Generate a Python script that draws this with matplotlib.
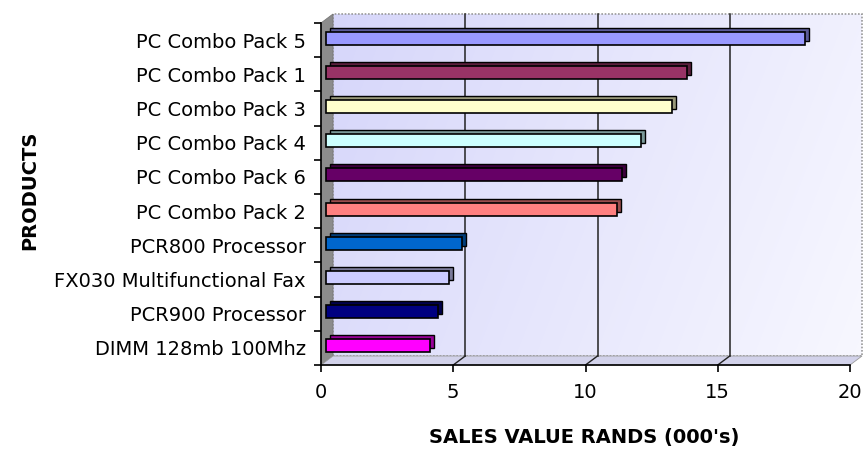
import matplotlib
matplotlib.use("Agg")
import matplotlib.pyplot as plt
import numpy as np
from matplotlib.transforms import ScaledTranslation
from matplotlib.patches import Polygon, Rectangle

products = ["PC Combo Pack 5", "PC Combo Pack 1", "PC Combo Pack 3", "PC Combo Pack 4",
            "PC Combo Pack 6", "PC Combo Pack 2", "PCR800 Processor",
            "FX030 Multifunctional Fax", "PCR900 Processor", "DIMM 128mb 100Mhz"]
sales = [18.1, 13.65, 13.1, 11.9, 11.2, 11.0, 5.15, 4.65, 4.25, 3.95]
colors = ["#9999FF", "#993366", "#FFFFCC", "#CCFFFF", "#660066", "#FF8080",
          "#0066CC", "#CCCCFF", "#000080", "#FF00FF"]
xticks = [0, 5, 10, 15, 20]

plt.rcParams['font.family'] = ['DejaVu Sans']

W, H, DPI = 864, 450, 100
fig = plt.figure(figsize=(W / DPI, H / DPI), dpi=DPI)
L, R, T, B = 321, 850, 23, 365
ax = fig.add_axes([L / W, 1 - B / H, (R - L) / W, (B - T) / H])
ax.set_facecolor('none')

n = len(products)
ypos = np.arange(n)[::-1]  # first product at top

# 3D wall offsets (pixels)
DX, DY = 12, 9
dxa, dya = DX / (R - L), DY / (B - T)
wall_off = ax.transAxes + ScaledTranslation(DX / DPI, DY / DPI, fig.dpi_scale_trans)

# back wall gradient (lavender at left -> near white at right)
gx = np.linspace(0, 1, 200)
gy = np.linspace(0, 1, 200)
GX, GY = np.meshgrid(gx, gy)
t = np.clip(0.8 * GX + 0.2 * GY, 0, 1)  # row 0 is top
c0 = np.array([0.84, 0.84, 0.98])
c1 = np.array([0.97, 0.97, 1.0])
img = c0[None, None, :] * (1 - t[..., None]) + c1[None, None, :] * t[..., None]
ax.imshow(img, extent=(0, 1, 0, 1), origin='upper', transform=wall_off,
          aspect='auto', zorder=0, clip_on=False, interpolation='bilinear')
ax.add_patch(Rectangle((0, 0), 1, 1, transform=wall_off, facecolor='none',
                       edgecolor='#9a9a9a', lw=1.2, ls=(0, (1, 1)), zorder=0.5, clip_on=False))

# side wall and floor
ax.add_patch(Polygon([(0, 0), (0, 1), (dxa, 1 + dya), (dxa, dya)], closed=True,
                     transform=ax.transAxes, facecolor='#8c8c8c', edgecolor='#777777',
                     lw=0.6, zorder=0.6, clip_on=False))
ax.add_patch(Polygon([(0, 0), (1, 0), (1 + dxa, dya), (dxa, dya)], closed=True,
                     transform=ax.transAxes, facecolor='#d2d2ea', edgecolor='#9a9a9a',
                     lw=0.6, zorder=0.6, clip_on=False))

# gridlines on back wall + floor diagonals
for xv in xticks[1:-1]:
    f = xv / xticks[-1]
    ax.plot([f, f], [0, 1], transform=wall_off, color='#222222', lw=1.1, zorder=0.7, clip_on=False)
    ax.plot([f, f + dxa], [0, dya], transform=ax.transAxes, color='#222222', lw=1.0,
            zorder=0.7, clip_on=False)

# bars with 3D depth
front_off = ax.transData + ScaledTranslation(5 / DPI, 2 / DPI, fig.dpi_scale_trans)
back_off = ax.transData + ScaledTranslation(9 / DPI, 6 / DPI, fig.dpi_scale_trans)


def darker(c, k=0.6):
    rgb = np.array(matplotlib.colors.to_rgb(c))
    return tuple(rgb * k)


ax.barh(ypos, sales, height=0.38, left=0, color=[darker(c) for c in colors],
        edgecolor='black', linewidth=1.0, transform=back_off, zorder=2, clip_on=False)
ax.barh(ypos, sales, height=0.38, left=0, color=colors,
        edgecolor='black', linewidth=1.2, transform=front_off, zorder=3, clip_on=False)

ax.set_xlim(0, 20)
ax.set_ylim(-0.5, n - 0.5)

# spines
for s in ['top', 'right']:
    ax.spines[s].set_visible(False)
for s in ['left', 'bottom']:
    ax.spines[s].set_color('black')
    ax.spines[s].set_linewidth(1.2)
    ax.spines[s].set_zorder(5)

ax.set_xticks(xticks)
ax.set_xticklabels([str(v) for v in xticks])
ax.tick_params(axis='x', direction='out', length=5, width=1.2, pad=8,
               labelsize=14, colors='black')
ax.set_yticks(np.arange(-0.5, n, 1.0))
ax.set_yticklabels([])
ax.set_yticks(ypos, minor=True)
ax.set_yticklabels(products, minor=True)
ax.tick_params(axis='y', which='major', direction='out', length=5, width=1.2)
ax.tick_params(axis='y', which='minor', length=0, pad=11, labelsize=14)

fig.text(30 / W, 1 - 190 / H, "PRODUCTS", rotation=90, ha='center', va='center',
         fontsize=14, fontweight='bold')
fig.text(584 / W, 1 - 438 / H, "SALES VALUE RANDS (000's)", ha='center', va='center',
         fontsize=14, fontweight='bold')

fig.savefig("out.png", dpi=DPI)
